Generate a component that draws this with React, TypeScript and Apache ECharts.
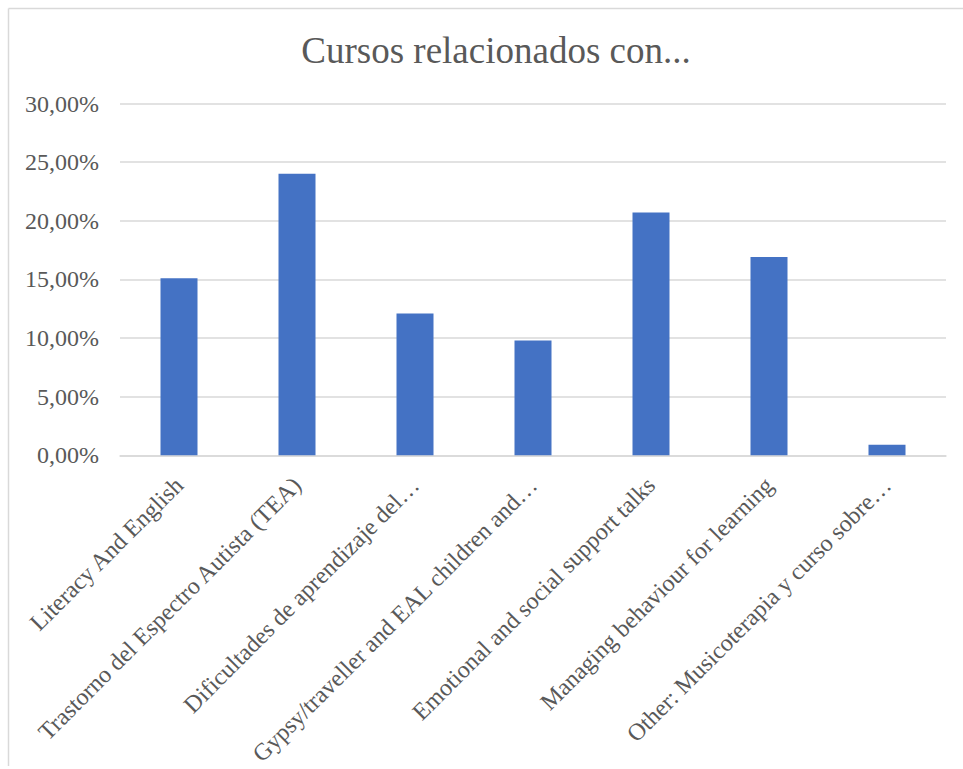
import React, { useEffect, useRef } from "react";
import * as echarts from "echarts";

// Course topics and the share of respondents for each (percent)
const categories = [
  "Literacy And English",
  "Trastorno del Espectro Autista (TEA)",
  "Dificultades de aprendizaje del…",
  "Gypsy/traveller and EAL children and…",
  "Emotional and social support talks",
  "Managing behaviour for learning",
  "Other: Musicoterapia y curso sobre…",
];
const shares = [15.1, 24.0, 12.1, 9.8, 20.7, 16.9, 0.9];
const yTicks = { min: 0, max: 30, interval: 5 };

const SERIF = '"Liberation Serif", "Times New Roman", serif';
const TEXT = "#595959";
const GRID = "#d9d9d9";

export default function App() {
  const ref = useRef<HTMLDivElement>(null);

  useEffect(() => {
    if (!ref.current) return;
    const chart = echarts.init(ref.current, undefined, { renderer: "svg" });
    chart.setOption({
      animation: false,
      backgroundColor: "#ffffff",
      title: {
        text: "Cursos relacionados con...",
        left: 491,
        top: 27,
        textAlign: "center",
        textStyle: {
          fontFamily: SERIF,
          fontSize: 37,
          fontWeight: "normal",
          color: TEXT,
        },
      },
      // chart-area frame: top and left edges
      graphic: [
        {
          type: "line",
          shape: { x1: 8.5, y1: 8.5, x2: 963, y2: 8.5 },
          style: { stroke: GRID, lineWidth: 1.5 },
          silent: true,
        },
        {
          type: "line",
          shape: { x1: 8.5, y1: 8.5, x2: 8.5, y2: 766 },
          style: { stroke: GRID, lineWidth: 1.5 },
          silent: true,
        },
      ],
      grid: { left: 120, right: 17, top: 103.5, bottom: 305, containLabel: false },
      xAxis: {
        type: "category",
        data: categories,
        axisLine: { show: true, lineStyle: { color: GRID, width: 1.5 } },
        axisTick: { show: false },
        axisLabel: {
          interval: 0,
          rotate: 45,
          margin: 26,
          fontFamily: SERIF,
          fontSize: 24,
          color: TEXT,
        },
      },
      yAxis: {
        type: "value",
        min: yTicks.min,
        max: yTicks.max,
        interval: yTicks.interval,
        axisLine: { show: false },
        axisTick: { show: false },
        splitLine: { lineStyle: { color: GRID, width: 1.5 } },
        axisLabel: {
          margin: 21,
          fontFamily: SERIF,
          fontSize: 24,
          color: TEXT,
          formatter: (v: number) => v.toFixed(2).replace(".", ",") + "%",
        },
      },
      series: [
        {
          type: "bar",
          data: shares,
          barWidth: 37,
          itemStyle: { color: "#4472C4" },
        },
      ],
    });
    return () => chart.dispose();
  }, []);

  return (
    <div
      ref={ref}
      style={{ position: "fixed", left: 0, top: 0, width: 963, height: 769 }}
    />
  );
}
